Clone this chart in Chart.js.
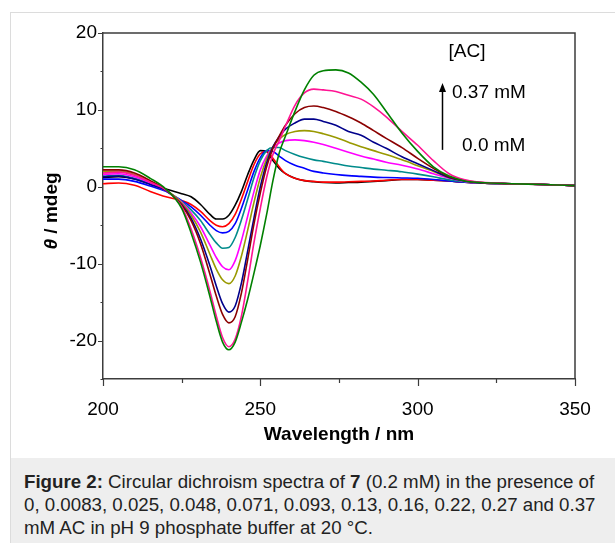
<!DOCTYPE html>
<html><head><meta charset="utf-8">
<script src="https://cdn.jsdelivr.net/npm/chart.js@4.4.1/dist/chart.umd.min.js"></script>
<style>
html,body{margin:0;padding:0;background:#fff;width:615px;height:543px;overflow:hidden;font-family:"Liberation Sans",Arial,sans-serif;}
#frame{position:absolute;left:10px;top:12px;width:700px;height:600px;border-left:1px solid #dcdcdc;border-top:1px solid #dcdcdc;}
#cap{position:absolute;left:11px;top:458px;width:640px;height:100px;background:#eeeeee;color:#222;font-size:18.7px;line-height:23px;padding:12px 0 0 13px;box-sizing:border-box;white-space:nowrap;}
canvas{position:absolute;left:0;top:0;}
</style></head>
<body>
<div id="frame"></div>
<div id="cap"><b>Figure 2:</b> Circular dichroism spectra of <b>7</b> (0.2 mM) in the presence of<br>0, 0.0083, 0.025, 0.048, 0.071, 0.093, 0.13, 0.16, 0.22, 0.27 and 0.37<br>mM AC in pH 9 phosphate buffer at 20 °C.</div>
<canvas id="c" width="615" height="458"></canvas>
<script>
// ---- data ----
const wavelengths = [200,205,210,215,220,225,228,231,234,236,238,240,242,244,246,248,250,252,254,256,258,261,264,267,270,274,278,282,286,290,295,300,305,310,315,320,330,340,350];
const sBlack   = [1.2,1.3,1.0,0.4,-0.3,-0.9,-1.3,-2.3,-3.6,-4.2,-4.2,-3.7,-2.4,-0.6,1.6,3.5,4.7,4.6,3.4,2.4,1.7,1.1,0.8,0.65,0.55,0.5,0.55,0.6,0.7,0.8,0.95,0.95,0.85,0.75,0.6,0.5,0.4,0.3,0.15];
const sRed     = [0.4,0.5,0.2,-0.6,-1.3,-1.8,-2.3,-3.2,-4.4,-5.0,-5.2,-4.8,-3.6,-1.6,0.7,2.9,4.3,4.6,3.7,2.6,1.7,1.1,0.8,0.7,0.6,0.6,0.65,0.7,0.75,0.85,0.95,0.95,0.85,0.75,0.6,0.5,0.4,0.3,0.15];
const sBlue    = [1.0,1.0,0.7,0.1,-0.6,-1.8,-2.6,-3.7,-5.0,-5.7,-6.0,-5.8,-4.8,-2.8,-0.4,2.0,3.8,4.7,4.6,4.0,3.4,2.8,2.4,2.0,1.8,1.6,1.45,1.35,1.25,1.2,1.15,1.1,0.95,0.75,0.6,0.5,0.4,0.3,0.15];
const sTeal    = [1.4,1.5,1.1,0.4,-0.5,-1.9,-3.0,-4.4,-6.2,-7.3,-8.0,-7.9,-6.6,-4.3,-1.6,1.2,3.4,4.7,5.1,5.1,4.7,4.2,3.8,3.5,3.3,3.0,2.7,2.5,2.3,2.15,1.95,1.65,1.3,0.9,0.65,0.5,0.4,0.3,0.15];
const sMagenta = [1.6,1.7,1.3,0.5,-0.5,-2.0,-3.4,-5.2,-7.6,-9.2,-10.4,-10.8,-9.6,-7.0,-3.8,-0.6,2.2,4.0,5.1,5.7,6.0,6.1,6.0,5.8,5.5,5.0,4.5,4.0,3.6,3.2,2.8,2.3,1.7,1.1,0.7,0.5,0.4,0.3,0.15];
const sOlive   = [2.0,2.0,1.6,0.7,-0.4,-2.1,-3.7,-5.9,-8.8,-10.7,-12.1,-12.6,-11.6,-9.0,-5.6,-2.0,1.2,3.6,5.2,6.2,6.8,7.2,7.3,7.2,6.9,6.4,5.8,5.2,4.7,4.2,3.5,2.75,2.0,1.2,0.75,0.5,0.4,0.3,0.15];
const sNavy    = [1.3,1.4,1.0,0.3,-0.5,-2.3,-4.1,-6.8,-10.3,-12.9,-15.2,-16.3,-15.5,-12.5,-8.3,-4.0,0.0,3.1,5.2,6.5,7.5,8.3,8.8,8.8,8.5,8.0,7.2,6.7,5.8,5.0,3.9,3.0,2.1,1.2,0.75,0.5,0.4,0.3,0.15];
const sBrown   = [2.2,2.2,1.8,0.8,-0.4,-2.4,-4.4,-7.4,-11.4,-14.2,-16.6,-17.7,-16.9,-13.8,-9.4,-4.8,-0.8,2.6,5.0,6.6,8.0,9.5,10.3,10.5,10.3,9.8,9.1,8.3,7.3,6.3,5.1,3.7,2.4,1.3,0.8,0.55,0.4,0.3,0.15];
const sPink    = [1.8,1.9,1.5,0.6,-0.4,-2.6,-5.5,-9.2,-13.6,-16.8,-19.6,-20.8,-19.8,-16.8,-12.2,-7.2,-2.8,1.2,4.2,6.0,7.9,10.6,12.2,12.7,12.6,12.4,11.9,11.4,10.4,9.1,7.2,5.4,3.4,1.7,0.9,0.6,0.4,0.3,0.15];
const sGreen   = [2.6,2.6,2.2,1.1,-0.3,-2.8,-6.0,-9.8,-14.3,-17.5,-20.2,-21.2,-20.2,-17.6,-14.6,-11.2,-7.6,-3.6,0.8,4.4,6.6,9.8,12.6,14.5,15.1,15.2,14.8,13.6,12.0,9.8,7.0,4.6,2.6,1.4,0.75,0.55,0.4,0.3,0.15];
const xTickLabels = [200,250,300,350];
const yTickLabels = [-20,-10,0,10,20];
const xMinorTicks = [225,275,325];
const yMinorTicks = [-25,-15,-5,5,15];

// ---- styling ----
const F = '"Liberation Sans", Arial, sans-serif';
const AX = '#3c3c3c';
const series = [
  {v:sBlack,c:'#000000'},{v:sRed,c:'#ff0000'},{v:sBlue,c:'#0000ff'},{v:sTeal,c:'#008b8b'},
  {v:sMagenta,c:'#ff00ff'},{v:sOlive,c:'#999900'},{v:sNavy,c:'#00008b'},{v:sBrown,c:'#8b0000'},
  {v:sPink,c:'#ff1493'},{v:sGreen,c:'#008000'}
];
const datasets = series.slice().reverse().map(s=>({
  data: wavelengths.map((w,i)=>({x:w,y:s.v[i]})),
  borderColor:s.c, borderWidth:1.6, pointRadius:0, fill:false,
  cubicInterpolationMode:'monotone'
}));

const decor = {
  id:'decor',
  afterDraw(chart){
    const {ctx, chartArea:a, scales:{x,y}} = chart;
    ctx.save();
    ctx.strokeStyle = AX; ctx.lineWidth = 1.5;
    ctx.beginPath();
    ctx.moveTo(a.left, a.top); ctx.lineTo(a.right, a.top); ctx.lineTo(a.right, a.bottom);
    ctx.stroke();
    ctx.lineWidth = 1.2;
    ctx.beginPath();
    xTickLabels.forEach(v=>{const p=Math.round(x.getPixelForValue(v))+0.5; ctx.moveTo(p,a.bottom); ctx.lineTo(p,a.bottom+7);});
    xMinorTicks.forEach(v=>{const p=Math.round(x.getPixelForValue(v))+0.5; ctx.moveTo(p,a.bottom); ctx.lineTo(p,a.bottom+4);});
    yTickLabels.forEach(v=>{const p=Math.round(y.getPixelForValue(v))+0.5; ctx.moveTo(a.left,p); ctx.lineTo(a.left-5,p);});
    yMinorTicks.forEach(v=>{const p=Math.round(y.getPixelForValue(v))+0.5; ctx.moveTo(a.left,p); ctx.lineTo(a.left-2.5,p);});
    ctx.stroke();
    // y-axis title
    ctx.fillStyle = '#000';
    ctx.translate(52, (a.top+a.bottom)/2 + 5);
    ctx.rotate(-Math.PI/2);
    ctx.textBaseline = 'middle';
    const f1 = 'italic bold 19px ' + F, f2 = 'bold 19px ' + F;
    ctx.font = f1; const w1 = ctx.measureText('θ').width;
    ctx.font = f2; const t2 = ' / mdeg'; const w2 = ctx.measureText(t2).width;
    const x0 = -(w1+w2)/2;
    ctx.font = f1; ctx.textAlign='left'; ctx.fillText('θ', x0, 0);
    ctx.font = f2; ctx.fillText(t2, x0+w1, 0);
    ctx.restore();
    // annotation
    ctx.save();
    ctx.fillStyle = '#000'; ctx.strokeStyle = '#000';
    ctx.font = '19px ' + F; ctx.textBaseline = 'middle';
    ctx.textAlign = 'center';
    ctx.fillText('[AC]', x.getPixelForValue(315.7), y.getPixelForValue(17.6));
    ctx.textAlign = 'left';
    ctx.fillText('0.37 mM', x.getPixelForValue(310.9), y.getPixelForValue(12.2));
    ctx.fillText('0.0 mM', x.getPixelForValue(314.1), y.getPixelForValue(5.3));
    const ax = Math.round(x.getPixelForValue(307.7))+0.5, aTop = y.getPixelForValue(13.5), aBot = y.getPixelForValue(4.8);
    ctx.lineWidth = 1.5;
    ctx.beginPath(); ctx.moveTo(ax, aBot); ctx.lineTo(ax, aTop+6); ctx.stroke();
    ctx.beginPath(); ctx.moveTo(ax, aTop); ctx.lineTo(ax-3.5, aTop+9); ctx.lineTo(ax+3.5, aTop+9); ctx.closePath(); ctx.fill();
    ctx.restore();
  }
};

new Chart(document.getElementById('c'), {
  type:'line',
  data:{datasets},
  options:{
    responsive:false, animation:false, devicePixelRatio:1,
    layout:{padding:{left:0,top:33,right:40,bottom:0}},
    plugins:{legend:{display:false}, tooltip:{enabled:false}},
    scales:{
      x:{type:'linear', min:200, max:350,
        afterBuildTicks:s=>{s.ticks = xTickLabels.map(v=>({value:v}));},
        afterFit:s=>{s.height = 79;},
        grid:{display:false, drawTicks:false},
        border:{display:true, color:AX, width:1.5},
        ticks:{padding:19, color:'#000', font:{size:19, family:F}, maxRotation:0, autoSkip:false},
        title:{display:true, text:'Wavelength / nm', color:'#000', font:{size:19, weight:'bold', family:F}, padding:{top:0,bottom:12}}
      },
      y:{type:'linear', min:-25, max:20,
        afterBuildTicks:s=>{s.ticks = yTickLabels.map(v=>({value:v}));},
        afterFit:s=>{s.width = 103;},
        grid:{display:false, drawTicks:false},
        border:{display:true, color:AX, width:1.5},
        ticks:{padding:6, color:'#000', font:{size:19, family:F}, autoSkip:false}
      }
    }
  },
  plugins:[decor]
});
</script>
</body></html>
